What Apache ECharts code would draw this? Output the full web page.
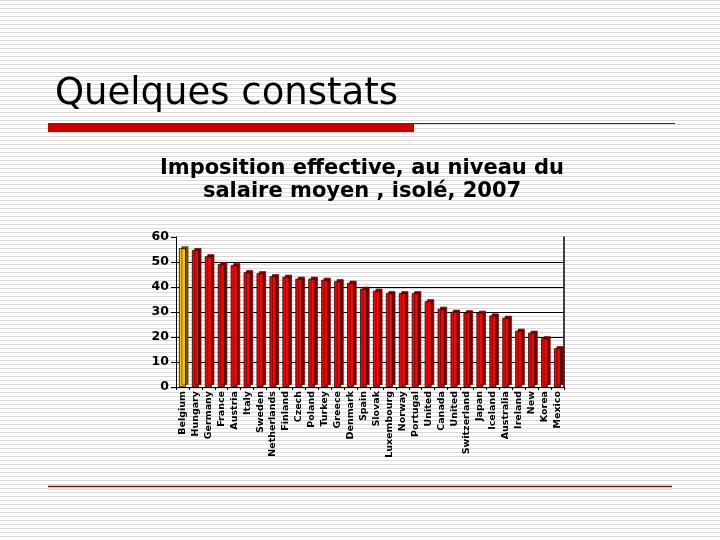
<!DOCTYPE html>
<html>
<head>
<meta charset="utf-8">
<script src="https://cdn.jsdelivr.net/npm/echarts@6/dist/echarts.min.js"></script>
<style>
  html, body { margin: 0; padding: 0; background: #fff; }
  #main { width: 720px; height: 540px; }
</style>
</head>
<body>
<div id="main"></div>
<script>
var countries = ['Belgium', 'Hungary', 'Germany', 'France', 'Austria', 'Italy', 'Sweden',
  'Netherlands', 'Finland', 'Czech', 'Poland', 'Turkey', 'Greece', 'Denmark', 'Spain',
  'Slovak', 'Luxembourg', 'Norway', 'Portugal', 'United', 'Canada', 'United',
  'Switzerland', 'Japan', 'Iceland', 'Australia', 'Ireland', 'New', 'Korea', 'Mexico']
var taxRate = [55.5, 54.8, 52.3, 49.1, 48.7, 45.9, 45.5, 44.3, 44.1, 43.3, 43.3, 42.9,
  42.3, 41.7, 39.3, 38.5, 37.5, 37.5, 37.5, 34.3, 31.3, 30.1, 29.9, 29.7, 28.6, 27.7,
  22.5, 21.7, 19.5, 15.5]
var yTicks = [0, 10, 20, 30, 40, 50, 60]

// striped slide background
var pat = document.createElement('canvas')
pat.width = 4
pat.height = 4
var pctx = pat.getContext('2d')
pctx.fillStyle = '#ffffff'
pctx.fillRect(0, 0, 4, 4)
pctx.fillStyle = '#d9d9d9'
pctx.fillRect(0, 0, 4, 1)

var chart = echarts.init(document.getElementById('main'), null, { renderer: 'canvas' })

var barData = taxRate.map(function (v, i) {
  if (i === 0) {
    return {
      value: v,
      itemStyle: { color: '#f2c21b', shadowColor: '#6e5200' }
    }
  }
  return v
})

var option = {
  backgroundColor: { image: pat, repeat: 'repeat' },
  animation: false,
  title: [{
    text: 'Quelques constats',
    left: 50,
    top: 71,
    textStyle: {
      fontFamily: 'DejaVu Sans',
      fontWeight: 'normal',
      fontSize: 37,
      color: '#000'
    }
  }, {
    text: 'Imposition effective, au niveau du\nsalaire moyen , isolé, 2007',
    left: 357,
    top: 152,
    textAlign: 'center',
    textStyle: {
      fontFamily: 'DejaVu Sans',
      fontWeight: 'bold',
      fontSize: 21,
      lineHeight: 23,
      color: '#000'
    }
  }],
  graphic: [
    { type: 'rect', shape: { x: 48, y: 123, width: 366, height: 9 }, style: { fill: '#cc0000' } },
    { type: 'line', shape: { x1: 414, y1: 123.5, x2: 675, y2: 123.5 }, style: { stroke: '#8a1010', lineWidth: 1 } },
    { type: 'rect', shape: { x: 48, y: 488, width: 624, height: 2 }, style: { fill: '#f6dcdc' } },
    { type: 'line', shape: { x1: 48, y1: 486.5, x2: 672, y2: 486.5 }, style: { stroke: '#5a1a1a', lineWidth: 1.5 } }
  ],
  grid: {
    left: 176,
    right: 156,
    top: 237,
    bottom: 153
  },
  xAxis: {
    type: 'category',
    data: countries,
    axisLine: { lineStyle: { color: '#000', width: 1 } },
    axisTick: { show: true, interval: 0, length: 3, lineStyle: { color: '#000' } },
    axisLabel: {
      interval: 0,
      rotate: 90,
      margin: 4,
      fontFamily: 'DejaVu Sans',
      fontWeight: 'bold',
      fontSize: 9.5,
      color: '#000'
    }
  },
  yAxis: [{
    type: 'value',
    min: 0,
    max: 60,
    interval: 10,
    axisLine: { show: true, lineStyle: { color: '#000', width: 1 } },
    axisTick: { show: true, length: 5, lineStyle: { color: '#000' } },
    axisLabel: {
      margin: 7,
      fontFamily: 'DejaVu Sans',
      fontWeight: 'bold',
      fontSize: 12.5,
      color: '#000',
      formatter: function (v) { return yTicks.indexOf(v) >= 0 ? String(v) : '' }
    },
    splitLine: {
      show: true,
      lineStyle: {
        color: ['transparent', '#000', '#000', '#000', '#000', '#000', 'transparent'],
        width: 1
      }
    }
  }, {
    type: 'value',
    min: 0,
    max: 60,
    interval: 10,
    position: 'right',
    axisLine: { show: true, lineStyle: { color: '#000', width: 1.5 } },
    axisTick: { show: false },
    axisLabel: { show: false },
    splitLine: { show: false }
  }],
  series: [{
    type: 'bar',
    data: barData,
    barWidth: 7,
    itemStyle: {
      color: '#e60c0c',
      borderColor: '#2a0000',
      borderWidth: 0.8,
      shadowColor: '#7a0000',
      shadowOffsetX: 2.5,
      shadowOffsetY: -2,
      shadowBlur: 0
    }
  }]
}

chart.setOption(option)
</script>
</body>
</html>
